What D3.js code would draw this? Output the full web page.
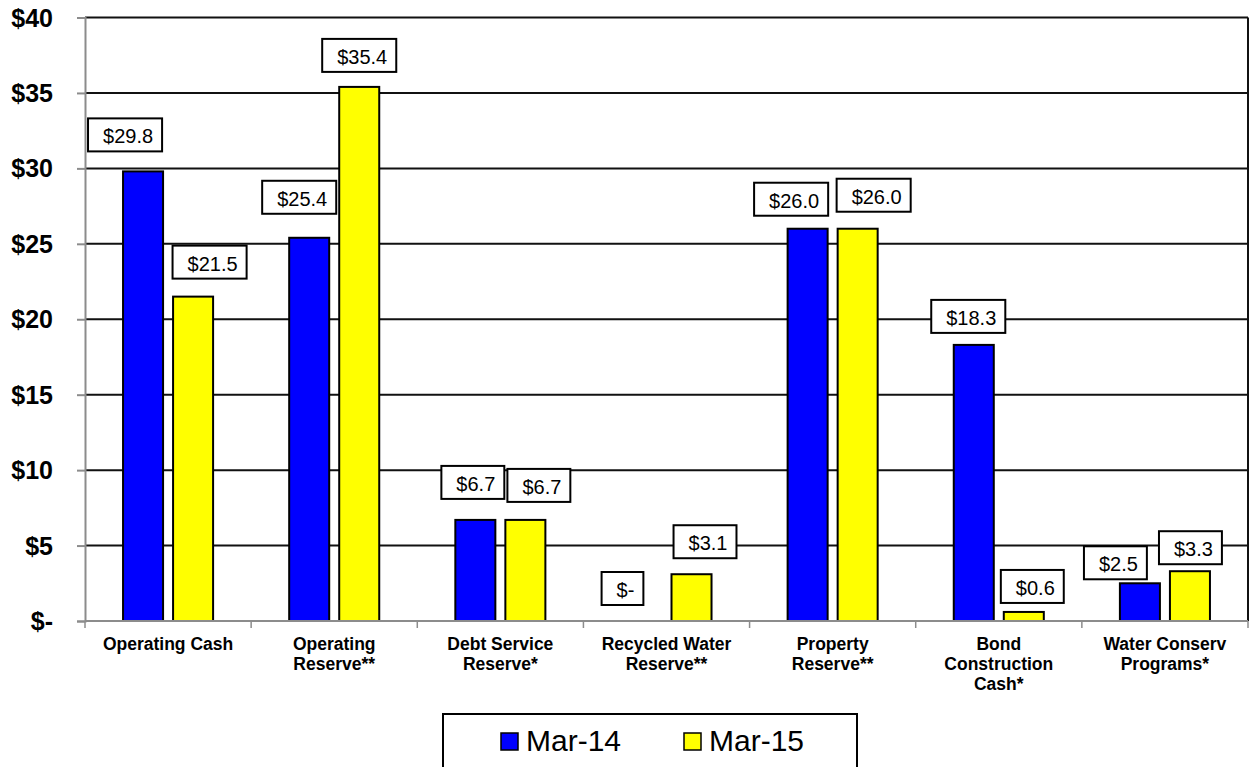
<!DOCTYPE html>
<html>
<head>
<meta charset="utf-8">
<script src="https://cdn.jsdelivr.net/npm/d3@7"></script>
<style>
  html, body { margin: 0; padding: 0; background: #fff; }
  svg { display: block; font-family: "Liberation Sans", Arial, sans-serif; }
</style>
</head>
<body>
<svg id="chart" width="1249" height="767"></svg>
<script>
// Cash balances by fund, in millions of dollars
const categories = [
  ["Operating Cash"],
  ["Operating", "Reserve**"],
  ["Debt Service", "Reserve*"],
  ["Recycled Water", "Reserve**"],
  ["Property", "Reserve**"],
  ["Bond", "Construction", "Cash*"],
  ["Water Conserv", "Programs*"]
];
const seriesNames = ["Mar-14", "Mar-15"];
const mar14 = [29.8, 25.4, 6.7, 0.0, 26.0, 18.3, 2.5];
const mar15 = [21.5, 35.4, 6.7, 3.1, 26.0, 0.6, 3.3];
const yTicks = [0, 5, 10, 15, 20, 25, 30, 35, 40];

// Hand-placed data-label offsets: [horizontal shift from bar centre, gap above bar top] in px
const labelNudge14 = [[-18, 20], [-10, 24], [-2.5, 21], [-19, 16], [-16.5, 13], [-5.5, 12], [-24.5, 4]];
const labelNudge15 = [[16.5, 18], [0, 15], [13.5, 18], [13.5, 16], [16, 17], [8.5, 9], [0.5, 7]];

const colors = { "Mar-14": "#0000FF", "Mar-15": "#FFFF00" };
const values = { "Mar-14": mar14, "Mar-15": mar15 };
const nudges = { "Mar-14": labelNudge14, "Mar-15": labelNudge15 };

const svg = d3.select("#chart");
const plot = { left: 85, right: 1248, top: 17.5, bottom: 621 };

const catKeys = categories.map(c => c.join(" "));
const x0 = d3.scaleBand().domain(catKeys).range([plot.left, plot.right]).padding(0);
const groupHalf = x0.bandwidth() * 0.271;
const x1 = d3.scaleBand().domain(seriesNames).range([-groupHalf, groupHalf]).paddingInner(0.2);
const y = d3.scaleLinear().domain([0, 40]).range([plot.bottom, plot.top]);

const fmt = v => v === 0 ? "$-" : "$" + d3.format(".1f")(v);

// Horizontal gridlines
svg.append("g")
  .selectAll("line")
  .data(yTicks.filter(t => t > 0))
  .join("line")
  .attr("x1", plot.left).attr("x2", plot.right)
  .attr("y1", d => y(d)).attr("y2", d => y(d))
  .attr("stroke", "#111").attr("stroke-width", 2);

// Right border of plot area
svg.append("line")
  .attr("x1", plot.right).attr("x2", plot.right)
  .attr("y1", y(40)).attr("y2", y(0))
  .attr("stroke", "#111").attr("stroke-width", 2);

// Y axis
const yAxis = d3.axisLeft(y).tickValues(yTicks).tickFormat(d => d === 0 ? "$-" : "$" + d).tickSize(8).tickPadding(24);
const gy = svg.append("g").attr("transform", `translate(${plot.left},0)`).call(yAxis);
gy.select(".domain").attr("stroke", "#8c8c8c").attr("stroke-width", 2);
gy.selectAll(".tick line").attr("stroke", "#8c8c8c").attr("stroke-width", 2);
gy.selectAll(".tick text")
  .attr("font-size", 25).attr("font-weight", "bold").attr("fill", "#000")
  .attr("font-family", "'Liberation Sans', Arial, sans-serif")
  .attr("dy", "0.34em");

// Bars
const groups = svg.append("g")
  .selectAll("g")
  .data(catKeys)
  .join("g")
  .attr("transform", d => `translate(${x0(d) + x0.bandwidth() / 2},0)`);

groups.selectAll("rect")
  .data((d, i) => seriesNames.map(s => ({ s, v: values[s][i] })))
  .join("rect")
  .attr("x", d => x1(d.s))
  .attr("width", x1.bandwidth())
  .attr("y", d => y(d.v))
  .attr("height", d => y(0) - y(d.v))
  .attr("fill", d => colors[d.s])
  .attr("stroke", d => d.v > 0 ? "#000" : "none")
  .attr("stroke-width", 2);

// X axis baseline and category boundary ticks
svg.append("line")
  .attr("x1", plot.left).attr("x2", plot.right)
  .attr("y1", y(0)).attr("y2", y(0))
  .attr("stroke", "#8c8c8c").attr("stroke-width", 2);
const bounds = catKeys.map(k => x0(k)).concat([x0(catKeys[catKeys.length - 1]) + x0.bandwidth()]);
svg.append("g")
  .selectAll("line")
  .data(bounds)
  .join("line")
  .attr("x1", d => d).attr("x2", d => d)
  .attr("y1", y(0)).attr("y2", y(0) + 7)
  .attr("stroke", "#8c8c8c").attr("stroke-width", 1.5);

// Category labels
const catText = svg.append("g")
  .selectAll("text")
  .data(categories)
  .join("text")
  .attr("x", (d, i) => x0(catKeys[i]) + x0.bandwidth() / 2)
  .attr("y", 650)
  .attr("text-anchor", "middle")
  .attr("font-size", 17.5)
  .attr("font-weight", "bold")
  .attr("fill", "#000");
catText.selectAll("tspan")
  .data(d => d)
  .join("tspan")
  .attr("x", function () { return d3.select(this.parentNode).attr("x"); })
  .attr("dy", (d, i) => i === 0 ? 0 : 20)
  .text(d => d);

// Boxed data labels
const labels = svg.append("g");
catKeys.forEach((k, i) => {
  seriesNames.forEach(s => {
    const v = values[s][i];
    const [dx, gap] = nudges[s][i];
    const cx = x0(k) + x0.bandwidth() / 2 + x1(s) + x1.bandwidth() / 2 + dx;
    const bottom = y(v) - gap;
    const g = labels.append("g");
    const rect = g.append("rect");
    const t = g.append("text")
      .attr("font-size", 20)
      .attr("fill", "#000")
      .attr("text-anchor", "middle")
      .text(fmt(v));
    const w = t.node().getComputedTextLength() + 24;
    const h = 33;
    rect.attr("x", cx - w / 2).attr("y", bottom - h)
      .attr("width", w).attr("height", h)
      .attr("fill", "#fff").attr("stroke", "#000").attr("stroke-width", 2);
    t.attr("x", cx + 3).attr("y", bottom - h + 25);
  });
});

// Legend
const legend = svg.append("g");
legend.append("rect")
  .attr("x", 443).attr("y", 714).attr("width", 414).attr("height", 80)
  .attr("fill", "#fff").attr("stroke", "#000").attr("stroke-width", 2);
const legendX = { "Mar-14": 501, "Mar-15": 684 };
seriesNames.forEach(s => {
  legend.append("rect")
    .attr("x", legendX[s]).attr("y", 733).attr("width", 17).attr("height", 17)
    .attr("fill", colors[s]).attr("stroke", "#000").attr("stroke-width", 1.5);
  legend.append("text")
    .attr("x", legendX[s] + 25).attr("y", 751)
    .attr("font-size", 30).attr("fill", "#000")
    .text(s);
});
</script>
</body>
</html>
